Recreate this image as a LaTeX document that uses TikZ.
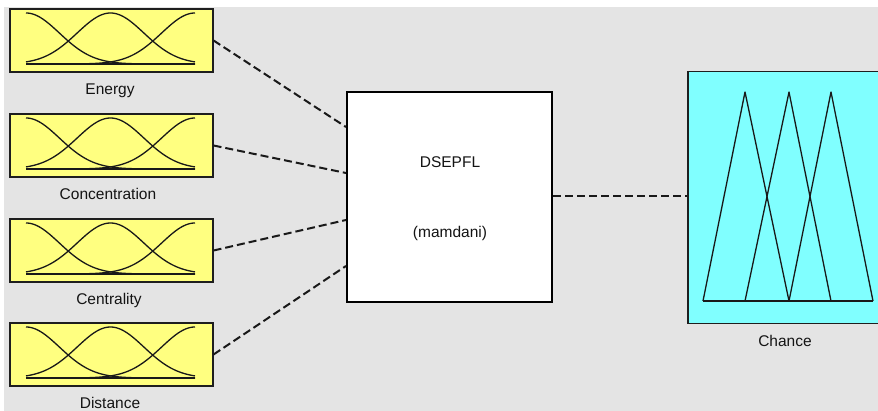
\documentclass[tikz,border=0pt]{standalone}
\usepackage{fontspec}
\setmainfont{Liberation Sans}
\usetikzlibrary{calc}
\definecolor{bg}{HTML}{E4E4E4}
\definecolor{inyellow}{HTML}{FFFF80}
\definecolor{outcyan}{HTML}{80FFFF}
\definecolor{edge}{HTML}{1E1E1E}
\tikzset{
 inbox/.style={draw=edge, line width=1.1pt, fill=inyellow, minimum width=203pt, minimum height=63pt, inner sep=0pt},
 fisbox/.style={draw=black, line width=2pt, fill=white, minimum width=205pt, minimum height=210pt, inner sep=0pt},
 outbox/.style={draw=edge, line width=1.5pt, fill=outcyan, minimum width=200pt, minimum height=252pt, inner sep=0pt, anchor=north west},
 conn/.style={line width=2pt, dash pattern=on 8pt off 4pt, draw=black!90},
 mf/.style={line width=1.3pt, draw=black!90, line join=round},
 lbl/.style={font=\fontsize{15.5}{18}\selectfont, text=black!92, anchor=base, inner sep=0pt},
}
\begin{document}
\begin{tikzpicture}[x=1pt,y=-1pt]
\clip (0,0) rectangle (878,411);
\fill[white] (0,0) rectangle (878,411);
\fill[bg] (4,7) rectangle (878,411);

% input variables
\foreach \name/\t/\lab/\ly/\lx in {in1/9/Energy/95/110, in2/114/Concentration/200/108, in3/219/Centrality/305/109, in4/323/Distance/409/110} {
  \node[inbox] (\name) at (111.5,\t+31.5) {};
  \draw[mf] (26,\t+55) -- (195,\t+55);
  \foreach \c in {26,110.5,195}
    \draw[mf] plot[domain=26:195,samples=90,smooth] (\x,{\t+55-51*exp(-0.5*((\x-\c)/33.4)^2)});
  \node[lbl] (\name-lab) at (\lx,\ly) {\lab};
}

% FIS box
\node[fisbox] (fis) at (449.5,197) {};
\node[lbl] (fisname) at (450,168) {DSEPFL};
\node[lbl] (fistype) at (450,238) {(mamdani)};

% output variable
\node[outbox] (out) at (687,71) {};
\draw[mf] (703,301) -- (745,92) -- (789,301);
\draw[mf] (745,301) -- (789,92) -- (831,301);
\draw[mf] (789,301) -- (831,92) -- (873,301);
\draw[mf] (703,301) -- (873,301);
\node[lbl] (outlab) at (785,346.5) {Chance};

% connectors
\draw[conn] (in1.east) -- ([yshift=70pt]fis.west);
\draw[conn] (in2.east) -- ([yshift=24pt]fis.west);
\draw[conn] (in3.east) -- ([yshift=-23pt]fis.west);
\draw[conn] (in4.east) -- ([yshift=-69pt]fis.west);
\draw[conn] ([yshift=1pt]fis.east) -- ([yshift=1pt]fis.east -| out.west);
\end{tikzpicture}
\end{document}
